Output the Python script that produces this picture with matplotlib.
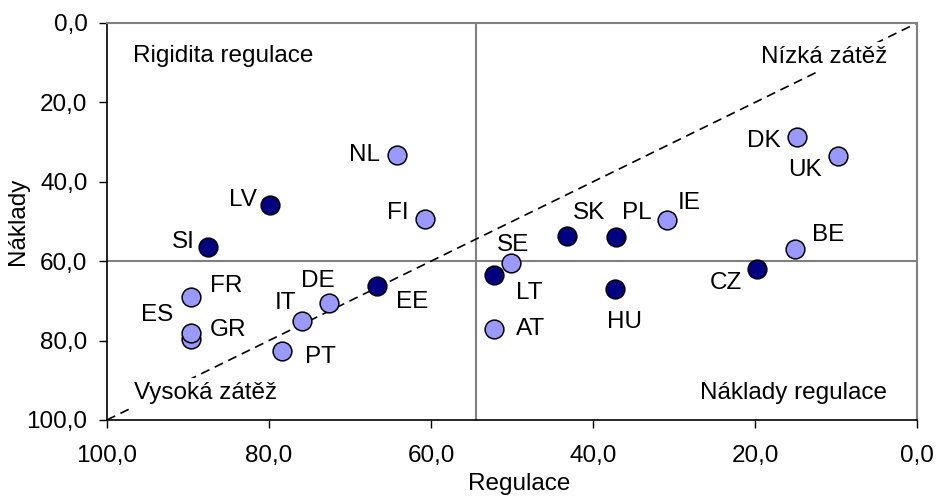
import matplotlib
matplotlib.use("Agg")
import matplotlib.pyplot as plt
from matplotlib.ticker import FuncFormatter

plt.rcParams['font.family'] = ['Liberation Sans', 'DejaVu Sans']

# země, regulace (osa x), náklady (osa y), skupina (1 = nové členské státy)
zeme = ['NL', 'LV', 'FI', 'SI', 'DK', 'UK', 'IE', 'SK', 'PL', 'SE', 'BE',
        'FR', 'ES', 'GR', 'IT', 'DE', 'EE', 'PT', 'LT', 'AT', 'HU', 'CZ']
regulace = [64.2, 79.9, 60.7, 87.5, 14.8, 9.8, 30.9, 43.2, 37.2, 50.2, 15.1,
            89.6, 89.6, 89.6, 75.9, 72.6, 66.7, 78.4, 52.3, 52.3, 37.3, 19.8]
naklady = [33.2, 45.8, 49.4, 56.4, 28.7, 33.5, 49.6, 53.7, 53.9, 60.5, 56.9,
           69.0, 79.6, 78.1, 75.1, 70.5, 66.2, 82.6, 63.5, 77.1, 67.0, 62.0]
skupina = [0, 1, 0, 1, 0, 0, 0, 1, 1, 0, 0,
           0, 0, 0, 0, 0, 1, 0, 1, 0, 1, 1]

prumer_regulace = 54.5
prumer_naklady = 60.0

# posun popisků v bodech (dx, dy, zarovnání)
posuny = {
    'NL': (-12, 0, 'right'), 'LV': (-9.4, 3.6, 'right'), 'FI': (-12, 4.3, 'right'),
    'SI': (-9.4, 3.6, 'right'), 'DK': (-12, -3, 'right'), 'UK': (-11.5, -10, 'right'),
    'IE': (8, 12, 'left'), 'SK': (4.3, 16.5, 'left'), 'PL': (4.3, 17, 'left'),
    'SE': (1.5, 13, 'center'), 'BE': (12, 10, 'left'), 'FR': (13.7, 8, 'left'),
    'ES': (-13, 17, 'right'), 'GR': (13, 2, 'left'), 'IT': (-4.3, 13, 'right'),
    'DE': (-8, 16, 'center'), 'EE': (13.7, -12, 'left'), 'PT': (16.5, -4.3, 'left'),
    'LT': (16, -13, 'left'), 'AT': (16, 0, 'left'), 'HU': (7, -24, 'center'),
    'CZ': (-11, -10, 'right'),
}

FS = 17.5
tmava = '#000080'
svetla = '#9999ff'
seda = '#808080'

fig = plt.figure(figsize=(9.38, 4.97), dpi=100)
ax = fig.add_axes([0.114, 0.155, 0.864, 0.799])

ax.set_xlim(100, 0)
ax.set_ylim(100, 0)

# kvadranty a diagonála
ax.axvline(prumer_regulace, color=seda, lw=1.5, zorder=1)
ax.axhline(prumer_naklady, color=seda, lw=1.5, zorder=1)
ax.plot([100, 0], [100, 0], color='black', lw=1.2, ls=(0, (5.5, 3.5)), zorder=1)

for grp, barva in [(1, tmava), (0, svetla)]:
    for z, x, y, g in zip(zeme, regulace, naklady, skupina):
        if g != grp:
            continue
        ax.plot(x, y, 'o', ms=13.5, mfc=barva, mec='black', mew=1.1, zorder=3)

for z, x, y in zip(zeme, regulace, naklady):
    dx, dy, ha = posuny[z]
    ax.annotate(z, (x, y), xytext=(dx, dy), textcoords='offset points',
                ha=ha, va='center', fontsize=FS, zorder=4)

box = dict(facecolor='white', edgecolor='none', pad=3)
ax.text(0.032, 0.917, 'Rigidita regulace', transform=ax.transAxes,
        ha='left', va='center', fontsize=FS, bbox=box, zorder=2)
ax.text(0.963, 0.914, 'Nízká zátěž', transform=ax.transAxes,
        ha='right', va='center', fontsize=FS, bbox=box, zorder=2)
ax.text(0.033, 0.068, 'Vysoká zátěž', transform=ax.transAxes,
        ha='left', va='center', fontsize=FS, bbox=box, zorder=2)
ax.text(0.963, 0.068, 'Náklady regulace', transform=ax.transAxes,
        ha='right', va='center', fontsize=FS, bbox=box, zorder=2)

fmt = FuncFormatter(lambda v, p: f'{v:.1f}'.replace('.', ','))
ax.set_xticks([100, 80, 60, 40, 20, 0])
ax.set_yticks([0, 20, 40, 60, 80, 100])
ax.xaxis.set_major_formatter(fmt)
ax.yaxis.set_major_formatter(fmt)
ax.tick_params(axis='x', direction='out', length=6, width=1, pad=12, labelsize=FS)
ax.tick_params(axis='y', direction='out', length=6, width=1, pad=8, labelsize=FS)

for s in ['left', 'bottom']:
    ax.spines[s].set_color('black')
    ax.spines[s].set_linewidth(1.2)
for s in ['top', 'right']:
    ax.spines[s].set_color(seda)
    ax.spines[s].set_linewidth(1.5)

ax.set_xlabel('Regulace', fontsize=FS, va='center')
ax.xaxis.set_label_coords(0.509, -0.16)
ax.set_ylabel('Náklady', fontsize=FS, va='center')
ax.yaxis.set_label_coords(-0.11, 0.5)

fig.savefig('out.png', dpi=100)
